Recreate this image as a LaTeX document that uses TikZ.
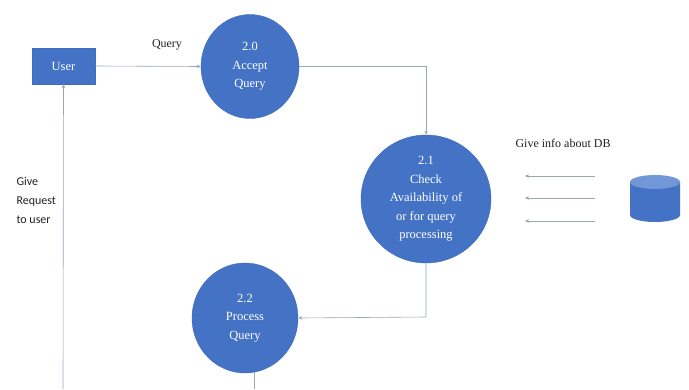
\documentclass[tikz,border=0pt]{standalone}
\usepackage{fontspec}
\setmainfont{Liberation Serif}
\newfontfamily\calfont{Carlito}
\usetikzlibrary{arrows.meta,shapes.geometric}
\definecolor{pblue}{HTML}{4472C4}
\definecolor{pedge}{HTML}{3F6BBC}
\definecolor{ptop}{HTML}{7396D6}
\definecolor{pline}{HTML}{9BA5BA}
\definecolor{ptext}{HTML}{222222}
\begin{document}
\begin{tikzpicture}[x=1pt,y=-1pt,
  proc/.style={ellipse,fill=pblue,draw=pedge,line width=0.4pt,inner sep=0pt},
  ptxt/.style={text=white,align=center,font=\fontsize{12.5}{18.5}\selectfont},
  ent/.style={rectangle,fill=pblue,draw=pedge,line width=0.4pt,minimum width=63pt,minimum height=36pt,text=white,font=\fontsize{12.5}{14}\selectfont},
  flow/.style={draw=pline,line width=0.6pt,-{Stealth[length=4pt,width=3.5pt]}},
  plain/.style={draw=pline,line width=0.6pt},
  lbl/.style={text=ptext,font=\fontsize{12}{14}\selectfont}]
\useasboundingbox (0,0) rectangle (689,389);
\fill[white] (0,0) rectangle (689,389);

\node[ent] (user) at (63.5,66) {User};
\node[proc,minimum width=98pt,minimum height=104pt,
  label={[ptxt]center:2.0\\Accept\\Query}] (c20) at (250,66.5) {};
\node[proc,minimum width=130pt,minimum height=128pt,
  label={[ptxt]center:2.1\\Check\\Availability of\\or for query\\processing}] (c21) at (426,199) {};
\node[proc,minimum width=106pt,minimum height=110pt,
  label={[ptxt]center:2.2\\Process\\Query}] (c22) at (245,318) {};

% database cylinder
\coordinate (db) at (655,198);
\fill[pblue] (630,182) -- (630,215) arc[start angle=180,end angle=0,x radius=25,y radius=7] -- (680,182) -- cycle;
\fill[ptop] (655,182) ellipse[x radius=25,y radius=7];

\node[lbl] (qlbl) at (167,45) {Query};
\node[lbl,anchor=west] (glbl) at (512,143) {Give info about DB};
\node[text=ptext,font=\calfont\fontsize{12}{19}\selectfont,align=left,anchor=north west] (rlbl) at (13,174) {Give\\Request\\to user};

\coordinate (k1) at (426,66.5);
\coordinate (k2) at (426,317);
\coordinate (bot1) at (255,389);
\coordinate (bot2) at (63,389);
\foreach \i/\y in {1/176,2/198,3/221}{
  \coordinate (a\i) at (595,\y);
  \coordinate (b\i) at (525,\y);
  \draw[flow] (a\i) -- (b\i);
}

\draw[flow] (user.east) -- (c20.west);
\draw[flow] (c20.east) -- (k1) -- (c21.north);
\draw[flow] (c21.south) -- (k2) -- (c22.east);
\draw[plain] (c22.280) -- (c22.280 |- bot1);
\draw[flow] (bot2) -- (user.south);
\end{tikzpicture}
\end{document}
